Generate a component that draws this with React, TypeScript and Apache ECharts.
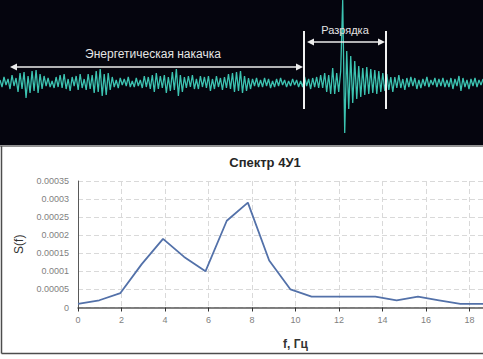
import React, { useEffect, useRef } from "react";
import * as echarts from "echarts";

// Seismogram samples (relative amplitude, one sample every 2 time units)
const waveStep = 2;
const waveform = [
  3, -4, 6, -2, 4, -6, 8, -3, 5, -9,
  10, -6, 11, -15, 7, -10, 12, -8, 13, -10,
  9, -6, 7, -3, 5, -4, 2, -5, 6, -4,
  8, -5, 9, -6, 4, -8, 6, -3, 7, -7,
  9, -5, 4, -7, 9, -6, 8, -10, 12, -9,
  14, -13, 9, -12, 10, -7, 6, -4, 3, -5,
  5, -2, 4, -3, 6, -4, 2, -4, 5, -3,
  3, -5, 7, -4, 6, -6, 8, -9, 10, -6,
  7, -5, 8, -10, 6, -8, 11, -7, 14, -13,
  8, -9, 6, -5, 7, -4, 8, -6, 4, -6,
  7, -4, 6, -5, 7, -8, 4, -6, 7, -4,
  5, -7, 6, -5, 9, -6, 10, -9, 11, -8,
  12, -10, 7, -8, 5, -6, 4, -3, 5, -4,
  3, -4, 5, -3, 4, -5, 2, -4, 4, -3,
  5, -2, 3, -4, 2, -3, 4, -2, 3, -4,
  2, -4, 6, -3, 4, -6, 5, -4, 6, -5,
  8, -5, 10, -9, 8, -11, 15, -11, 10, -9,
  12, 83, -50, 32, -26, 27, -20, 22, -16, 17,
  -14, 15, -12, 16, -11, 14, -10, 13, -11, 12,
  -9, 10, -8, 9, -7, 6, -9, 6, -5, 8,
  -5, 4, -7, 5, -4, 6, -3, 5, -6, 3,
  -5, 4, -3, 6, -4, 3, -2, 5, -4, 4,
  -3, 5, -4, 3, -4, 5, -6, 4, -3, 7,
  -8, 5, -4, 3, -6, 4, -3, 5, -4, 3, -2, 4,
];

// Spectrum 4У1
const spectrumFreq = [
  0, 0.98, 1.95, 2.93, 3.91, 4.88, 5.86, 6.84, 7.81, 8.79, 9.77,
  10.74, 11.72, 12.7, 13.67, 14.65, 15.63, 16.6, 17.58, 18.55, 19.53,
];
const spectrumS = [
  0.00001, 0.00002, 0.00004, 0.00012, 0.00019, 0.00014, 0.0001, 0.00024,
  0.00029, 0.00013, 0.00005, 0.00003, 0.00003, 0.00003, 0.00003, 0.00002,
  0.00003, 0.00002, 0.00001, 0.00001, 0.00001,
];

const chartTitle = "Спектр 4У1";
const xName = "f, Гц";
const yName = "S(f)";
const annotPump = "Энергетическая накачка";
const annotRelease = "Разрядка";

const FONT = "'Liberation Sans', Arial, sans-serif";

export default function App() {
  const ref = useRef<HTMLDivElement>(null);
  useEffect(() => {
    if (!ref.current) return;
    const chart = echarts.init(ref.current, undefined, { renderer: "svg" });
    const white = "#ececec";
    const option: any = {
      animation: false,
      backgroundColor: "#ffffff",
      grid: [
        { left: 0, top: 0, width: 483, height: 145, outerBoundsMode: "none", containLabel: false },
        { left: 78, top: 181, width: 435, height: 126.5, outerBoundsMode: "none", containLabel: false },
      ],
      xAxis: [
        { gridIndex: 0, type: "value", min: 0, max: 482, show: false },
        {
          gridIndex: 1,
          type: "value",
          min: 0,
          max: 20,
          interval: 2,
          name: xName,
          nameLocation: "middle",
          nameGap: 30,
          nameTextStyle: { color: "#333333", fontSize: 12, fontWeight: "bold", fontFamily: FONT },
          axisLine: { show: true, lineStyle: { color: "#595959", width: 1.5 } },
          axisTick: { show: true, length: 4, lineStyle: { color: "#333333", width: 1 } },
          axisLabel: { color: "#7f7f7f", fontSize: 9, margin: 8, fontFamily: FONT, showMaxLabel: false },
          splitLine: { show: true, lineStyle: { type: [5, 3], color: "#d9d9d9", width: 1 } },
        },
      ],
      yAxis: [
        { gridIndex: 0, type: "value", min: -62, max: 83, show: false },
        {
          gridIndex: 1,
          type: "value",
          min: 0,
          max: 0.00035,
          interval: 0.00005,
          name: yName,
          nameLocation: "middle",
          nameGap: 53,
          nameRotate: 90,
          nameTextStyle: { color: "#333333", fontSize: 12, fontFamily: FONT },
          axisLine: { show: true, lineStyle: { color: "#595959", width: 1 } },
          axisTick: { show: false },
          axisLabel: {
            color: "#7f7f7f",
            fontSize: 9,
            margin: 9,
            fontFamily: FONT,
            formatter: (v: number) => (v === 0 ? "0" : String(parseFloat(v.toFixed(5)))),
          },
          splitLine: { show: true, lineStyle: { type: [5, 3], color: "#d9d9d9", width: 1 } },
        },
      ],
      series: [
        {
          type: "line",
          xAxisIndex: 0,
          yAxisIndex: 0,
          data: waveform.map((v, i) => [i * waveStep, v]),
          showSymbol: false,
          lineStyle: { color: "#3cc3b1", width: 1.3 },
          z: 5,
        },
        {
          type: "line",
          xAxisIndex: 1,
          yAxisIndex: 1,
          data: spectrumFreq.map((f, i) => [f, spectrumS[i]]),
          showSymbol: false,
          lineStyle: { color: "#5371a9", width: 1.8 },
          z: 5,
        },
      ],
      graphic: [
        { type: "rect", z: 0, shape: { x: 0, y: 0, width: 483, height: 145 }, style: { fill: "#05050e" } },
        { type: "line", z: 1, shape: { x1: 0, y1: 146, x2: 483, y2: 146 }, style: { stroke: "#6e6e6e", lineWidth: 1.5 } },
        { type: "line", z: 1, shape: { x1: 1.5, y1: 146, x2: 1.5, y2: 353.5 }, style: { stroke: "#4d4d4d", lineWidth: 1.5 } },
        { type: "line", z: 1, shape: { x1: 1.5, y1: 353.5, x2: 483, y2: 353.5 }, style: { stroke: "#4d4d4d", lineWidth: 1.5 } },
        // annotations
        { type: "line", z: 100, shape: { x1: 304, y1: 31, x2: 304, y2: 109 }, style: { stroke: "#f2f2f2", lineWidth: 2 } },
        { type: "line", z: 100, shape: { x1: 386, y1: 31, x2: 386, y2: 109 }, style: { stroke: "#f2f2f2", lineWidth: 2 } },
        { type: "line", z: 100, shape: { x1: 14, y1: 67, x2: 299, y2: 67 }, style: { stroke: white, lineWidth: 1.5 } },
        { type: "polygon", z: 100, shape: { points: [[10, 67], [17, 63.5], [17, 70.5]] }, style: { fill: white } },
        { type: "polygon", z: 100, shape: { points: [[303, 67], [296, 63.5], [296, 70.5]] }, style: { fill: white } },
        { type: "line", z: 100, shape: { x1: 311, y1: 42, x2: 381, y2: 42 }, style: { stroke: white, lineWidth: 1.5 } },
        { type: "polygon", z: 100, shape: { points: [[307, 42], [314, 38.5], [314, 45.5]] }, style: { fill: white } },
        { type: "polygon", z: 100, shape: { points: [[385, 42], [378, 38.5], [378, 45.5]] }, style: { fill: white } },
        {
          type: "text", z: 100, x: 153, y: 54,
          style: { text: annotPump, fill: "#e4e4e4", font: `12px ${FONT}`, textAlign: "center", textVerticalAlign: "middle" },
        },
        {
          type: "text", z: 100, x: 345, y: 30,
          style: { text: annotRelease, fill: "#e4e4e4", font: `11px ${FONT}`, textAlign: "center", textVerticalAlign: "middle" },
        },
        {
          type: "text", z: 100, x: 265, y: 162,
          style: { text: chartTitle, fill: "#262626", font: `bold 13px ${FONT}`, textAlign: "center", textVerticalAlign: "middle" },
        },
      ],
    };
    chart.setOption(option);
    return () => chart.dispose();
  }, []);
  return (
    <div
      ref={ref}
      style={{ position: "absolute", left: 0, top: 0, width: 483, height: 359, overflow: "hidden" }}
    />
  );
}
